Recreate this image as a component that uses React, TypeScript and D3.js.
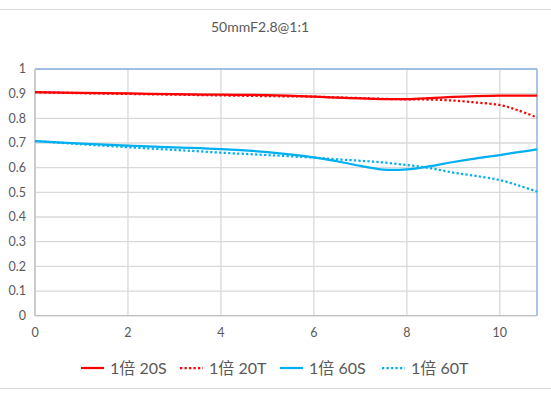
import React from "react";
import * as d3 from "d3";

const xs = [0, 1, 2, 3, 4, 5, 6, 6.5, 7, 7.5, 8, 8.5, 9, 9.5, 10, 10.4, 10.8];
const s20 = [0.906, 0.903, 0.901, 0.898, 0.896, 0.894, 0.888, 0.884, 0.881, 0.878, 0.878, 0.882, 0.887, 0.89, 0.892, 0.892, 0.892];
const t20 = [0.906, 0.902, 0.899, 0.896, 0.893, 0.89, 0.888, 0.885, 0.882, 0.879, 0.877, 0.876, 0.872, 0.864, 0.854, 0.832, 0.804];
const s60 = [0.708, 0.698, 0.689, 0.682, 0.675, 0.663, 0.642, 0.626, 0.607, 0.592, 0.593, 0.606, 0.623, 0.638, 0.651, 0.663, 0.674];
const t60 = [0.708, 0.695, 0.683, 0.672, 0.661, 0.651, 0.641, 0.634, 0.628, 0.621, 0.611, 0.598, 0.58, 0.566, 0.55, 0.528, 0.503];

const yTicks = [0, 0.1, 0.2, 0.3, 0.4, 0.5, 0.6, 0.7, 0.8, 0.9, 1];
const xTicks = [0, 2, 4, 6, 8, 10];

const series = [
  { name: "1倍 20S", values: s20, color: "#ff0000", dotted: false },
  { name: "1倍 20T", values: t20, color: "#ff0000", dotted: true },
  { name: "1倍 60S", values: s60, color: "#00b0f0", dotted: false },
  { name: "1倍 60T", values: t60, color: "#00b0f0", dotted: true },
];

const W = 551;
const H = 398;
const left = 35, right = 537, top = 69, bottom = 315.7;
const font = "Lato, 'Noto Sans CJK SC', sans-serif";
const legendX = [81, 180, 280, 382];

export default function App() {
  const x = d3.scaleLinear().domain([0, 10.8]).range([left, right]);
  const y = d3.scaleLinear().domain([0, 1]).range([bottom, top]);
  const line = d3
    .line<number>()
    .x((d, i) => x(xs[i]))
    .y((d) => y(d))
    .curve(d3.curveCatmullRom.alpha(0.5));

  return (
    <svg width={W} height={H} style={{ position: "absolute", left: 0, top: 0, background: "#fff" }}>
      <line x1={0} x2={W} y1={9.5} y2={9.5} stroke="#d9d9d9" strokeWidth={1} />
      <line x1={0} x2={W} y1={388.5} y2={388.5} stroke="#d9d9d9" strokeWidth={1} />
      <text x={260} y={32} textAnchor="middle" fontFamily={font} fontSize={14} fill="#595959">
        50mmF2.8@1:1
      </text>

      {/* grid */}
      {yTicks.map((t) => (
        <line key={"gy" + t} x1={left} x2={right} y1={y(t)} y2={y(t)} stroke="#d9d9d9" strokeWidth={1.3} />
      ))}
      {xTicks.map((t) => (
        <line key={"gx" + t} x1={x(t)} x2={x(t)} y1={top} y2={bottom} stroke="#d9d9d9" strokeWidth={1.3} />
      ))}
      <line x1={left} x2={right} y1={top} y2={top} stroke="#8db3e2" strokeWidth={1.5} />
      <line x1={right} x2={right} y1={top} y2={bottom} stroke="#8db3e2" strokeWidth={1.5} />
      <line x1={left} x2={left} y1={top} y2={bottom} stroke="#bfbfbf" strokeWidth={1.3} />
      <line x1={left} x2={right} y1={bottom} y2={bottom} stroke="#bfbfbf" strokeWidth={1.3} />

      {yTicks.map((t) => (
        <text key={"ty" + t} x={26} y={y(t)} dy="0.35em" textAnchor="end" fontFamily={font} fontSize={12.5} fill="#595959">
          {d3.format("~g")(t)}
        </text>
      ))}
      {xTicks.map((t) => (
        <text key={"tx" + t} x={x(t)} y={333} dy="0.35em" textAnchor="middle" fontFamily={font} fontSize={12.5} fill="#595959">
          {t}
        </text>
      ))}

      {series.map((s) => (
        <path
          key={s.name}
          d={line(s.values) || ""}
          fill="none"
          stroke={s.color}
          strokeWidth={2.25}
          strokeDasharray={s.dotted ? "2.25,2.25" : undefined}
        />
      ))}

      {series.map((s, i) => (
        <g key={"lg" + s.name} transform={`translate(${legendX[i]},368)`}>
          <line x1={0} x2={23} y1={0} y2={0} stroke={s.color} strokeWidth={2.25} strokeDasharray={s.dotted ? "2.25,2.25" : undefined} />
          <text x={29} y={0} dy="0.35em" fontFamily={font} fontSize={16} fill="#595959">
            {s.name}
          </text>
        </g>
      ))}
    </svg>
  );
}
